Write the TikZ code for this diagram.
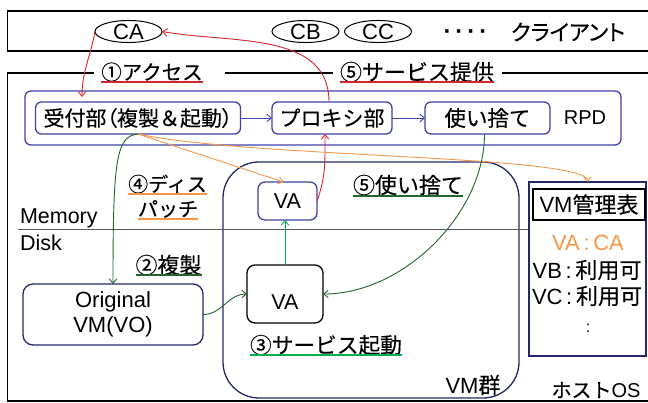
\documentclass[tikz,border=0pt]{standalone}
\usepackage{fontspec}
\setmainfont{Liberation Sans}
\newfontfamily\jp[FakeBold=0.3]{Noto Sans CJK JP}
\newfontfamily\jpp[FakeBold=0.3,RawFeature=+palt]{Noto Sans CJK JP}
\usetikzlibrary{arrows.meta,shapes.geometric,calc}
\definecolor{bbox}{RGB}{65,65,170}
\definecolor{navy}{RGB}{35,40,105}
\definecolor{rd}{RGB}{215,35,45}
\definecolor{org}{RGB}{247,150,70}
\definecolor{dgr}{RGB}{35,100,45}
\definecolor{lgr}{RGB}{0,176,80}
\newcommand{\myfs}[1]{\fontsize{#1}{#1}\selectfont}
\begin{document}
\begin{tikzpicture}[x=1pt,y=1pt,
  every node/.style={inner sep=0pt, outer sep=0pt},
  bluebox/.style={draw=bbox, line width=1.3pt, rounded corners=6pt},
  navybox/.style={draw=navy, line width=1.3pt},
  frame/.style={draw=black, line width=1.3pt},
  arr/.style={line width=0.9pt, -{Straight Barb[length=4.5pt,width=7.5pt]}},
  uline/.style={line width=1.2pt},
  cl/.style={ellipse, draw, line width=1pt, minimum width=67pt, minimum height=22pt, font=\myfs{22}}
]
\useasboundingbox (0,0) rectangle (648,-403);
% client area
\draw[frame] (7.5,-11) rectangle (700,-51);
% host area
\draw[frame] (94,-73) -- (7.5,-73) -- (7.5,-401) -- (700,-401);
\draw[frame] (225,-73) -- (333,-73);
\draw[frame] (502,-73) -- (700,-73);

% clients
\node[cl] (ca) at (128.5,-31.5) {CA};
\node[cl] (cb) at (305.5,-31.5) {CB};
\node[cl] (cc) at (378,-31.5) {CC};
\node[font=\myfs{24}\bfseries] (dots) at (465.5,-35) {·\hspace{4pt}·\hspace{4pt}·\hspace{4pt}·};
\node[font=\jpp\myfs{22}] (cli) at (568,-32) {クライアント};

% top labels
\node[font=\jp\myfs{20.5}] (acc) at (152,-72) {①アクセス};
\node[font=\jp\myfs{22}] (svc) at (417,-72) {⑤サービス提供};
\draw[uline, rd] (acc.west |- 0,-82) -- (acc.east |- 0,-82);
\draw[uline, rd] (svc.west |- 0,-82) -- (svc.east |- 0,-82);

% RPD
\node[bluebox, minimum width=596pt, minimum height=54pt] (rpd) at (323,-118) {};
\node[font=\myfs{20}] (rpdl) at (585,-118) {RPD};
\node[bluebox, minimum width=205pt, minimum height=32pt, font=\jpp\myfs{21}] (recv) at (138,-118) {受付部（複製{\jp ＆}起動）};
\node[bluebox, minimum width=120pt, minimum height=32pt, font=\jp\myfs{21}] (proxy) at (332,-118) {プロキシ部};
\node[bluebox, minimum width=125pt, minimum height=32pt, font=\jp\myfs{21.5}] (use) at (487.5,-118) {使い捨て};

% VM group
\node[navybox, rounded corners=36pt, minimum width=296pt, minimum height=236pt] (vmg) at (371,-280) {};
\node[font=\myfs{22}] (vmgl) at (473,-385) {VM{\jp 群}};
\node[bluebox, rounded corners=7pt, minimum width=59pt, minimum height=38pt, font=\myfs{21.5}] (vau) at (287.5,-201) {VA};
\node[frame, rounded corners=8pt, minimum width=76pt, minimum height=58pt] (val) at (285,-294) {};
\node[font=\myfs{21.5}] (valt) at (285,-302) {VA};

% Original VM
\node[navybox, rounded corners=10pt, minimum width=180pt, minimum height=61pt, align=center, font=\fontsize{22}{25}\selectfont] (orig) at (113,-314.5) {Original\\VM(VO)};

% Memory / Disk
\node[font=\myfs{21.5}, anchor=base west] (mem) at (20,-224) {Memory};
\node[font=\myfs{21.5}, anchor=base west] (disk) at (20,-251) {Disk};
\draw[line width=0.8pt, black!65] (18,-229) -- (528,-229);

% step labels
\node[font=\jp\myfs{20}] (d1) at (167.5,-184) {④ディス};
\node[font=\jp\myfs{20}] (d2) at (168,-209) {パッチ};
\node[font=\jp\myfs{22}] (rep) at (168.5,-265) {②複製};
\node[font=\jp\myfs{21.7}] (boot) at (326,-345) {③サービス起動};
\node[font=\jp\myfs{22}] (disp) at (408,-185) {⑤使い捨て};
\draw[uline, org] (d1.west |- 0,-194) -- (d1.east |- 0,-194);
\draw[uline, org] (d2.west |- 0,-219) -- (d2.east |- 0,-219);
\draw[uline, dgr] (rep.west |- 0,-275) -- (rep.east |- 0,-275);
\draw[uline, lgr] (boot.west |- 0,-355) -- (boot.east |- 0,-355);
\draw[uline, dgr] (disp.west |- 0,-196) -- (disp.east |- 0,-196);

% VM table
\node[navybox, minimum width=117pt, minimum height=174pt] (tbl) at (587.5,-269) {};
\node[frame, minimum width=112pt, minimum height=31pt, font=\myfs{22}] (tblh) at (589,-204.5) {VM{\jp 管理表}};
\node[font=\myfs{22}, text=org] (r1) at (588,-243) {VA\,:\,CA};
\node[font=\myfs{22}] (r2) at (587,-270) {VB\,:\,{\jp 利用可}};
\node[font=\myfs{22}] (r3) at (587,-296) {VC\,:\,{\jp 利用可}};
\node[font=\myfs{16}] (r4) at (588,-328) {:};
\node[font=\myfs{20}] (hostl) at (596,-390) {{\jp ホスト}OS};

% arrows
\draw[arr, bbox] (recv.east) -- (proxy.west);
\draw[arr, bbox] (proxy.east) -- (use.west);
\draw[arr, rd] (ca.west) to[out=-100,in=90] ([xshift=-56pt,yshift=5pt]recv.north);
\draw[arr, rd] ([xshift=-3pt]proxy.north) to[out=90,in=-10] (ca.east);
\draw[arr, rd] (vau.east) to[out=70,in=-90] ([xshift=-7pt]proxy.south);
\draw[arr, org] (recv.south) -- ([xshift=-4pt]vau.north);
\draw[arr, org] (recv.south) .. controls (250,-158) and (587.5,-155) .. (tbl.north);
\draw[arr, dgr] (recv.south) .. controls (116,-136) and (113,-160) .. (orig.north);
\draw[arr, dgr] (orig.east) to[out=0,in=180] (val.west);
\draw[arr, lgr] (val.north) -- (val.north |- vau.south);
\draw[arr, dgr] ([xshift=-3pt]use.south) to[out=-90,in=0,looseness=0.9] (val.east);
\end{tikzpicture}
\end{document}
